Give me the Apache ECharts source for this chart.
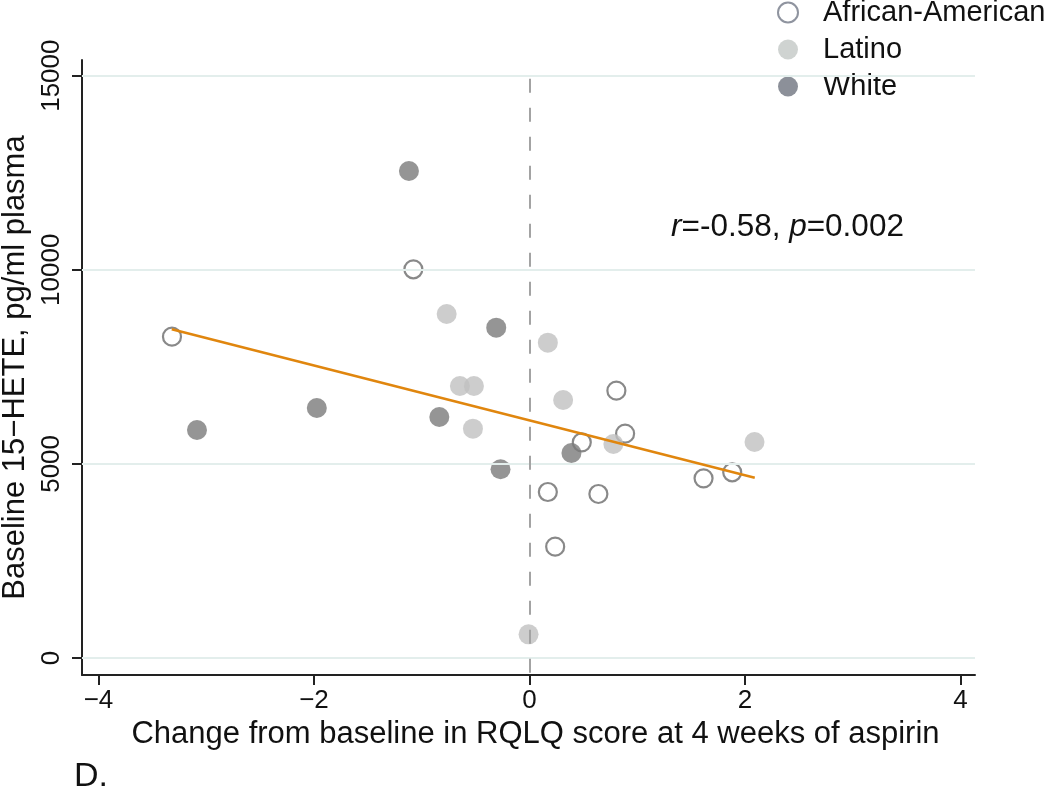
<!DOCTYPE html>
<html>
<head>
<meta charset="utf-8">
<script src="https://cdn.jsdelivr.net/npm/echarts@6/dist/echarts.min.js"></script>
<style>
html,body{margin:0;padding:0;background:#fff;}
#chart{width:1050px;height:793px;}
</style>
</head>
<body>
<div id="chart"></div>
<script>
// ---- data ----
const africanAmerican = [
  [-3.318, 8277], [-1.078, 10013], [0.806, 6886], [0.485, 5556], [0.887, 5778],
  [1.615, 4629], [1.881, 4784], [0.170, 4276], [0.639, 4225], [0.238, 2867]
];
const latino = [
  [-0.769, 8861], [-0.646, 7007], [-0.516, 7007], [-0.525, 5907], [0.170, 8122],
  [0.312, 6646], [0.778, 5513], [2.088, 5564], [-0.009, 610]
];
const white = [
  [-3.086, 5873], [-1.974, 6440], [-0.309, 8509], [-0.837, 6208],
  [-0.269, 4861], [0.389, 5281], [-1.119, 12545]
];
const fitLine = [[-3.32, 8470], [2.09, 4645]];
const xTicks = [-4, -2, 0, 2, 4];
const yTicks = [0, 5000, 10000, 15000];
const zeroLineSpan = [-380, 15000];
const xRange = [-4.153, 4.134];
const yRange = [-438, 15404];

const FONT = '"Liberation Sans", Arial, Helvetica, sans-serif';
const chart = echarts.init(document.getElementById('chart'), null, {renderer: 'canvas'});

const fmtNum = v => (v < 0 ? '\u2212' + Math.abs(v) : String(v));

chart.setOption({
  animation: false,
  backgroundColor: '#ffffff',
  textStyle: {fontFamily: FONT, color: '#111'},
  grid: {left: 82, right: 75, top: 60, bottom: 118, containLabel: false, outerBoundsMode: 'none'},
  legend: {
    orient: 'vertical',
    left: 777,
    top: -2,
    padding: 0,
    itemGap: 8,
    itemWidth: 20,
    itemHeight: 20,
    icon: 'circle',
    selectedMode: false,
    textStyle: {fontSize: 29, fontFamily: FONT, color: '#111', padding: [0, 0, 0, 20]},
    data: [
      {name: 'African-American', itemStyle: {color: '#ffffff', borderColor: '#737987', borderWidth: 2}},
      {name: 'Latino', itemStyle: {color: '#c3c8c5', borderWidth: 0}},
      {name: 'White', itemStyle: {color: '#6f7480', borderWidth: 0}}
    ]
  },
  xAxis: {
    type: 'value',
    min: xRange[0],
    max: xRange[1],
    name: 'Change from baseline in RQLQ score at 4 weeks of aspirin',
    nameLocation: 'middle',
    nameGap: 35,
    nameTextStyle: {fontSize: 31, fontFamily: FONT, color: '#111', padding: [0, 0, 0, 14]},
    axisLine: {show: true, onZero: false, lineStyle: {color: '#222', width: 2}},
    axisTick: {show: true, customValues: xTicks, length: 10, lineStyle: {color: '#222', width: 2}},
    axisLabel: {customValues: xTicks, formatter: fmtNum, fontSize: 26, fontFamily: FONT, color: '#111', margin: 13},
    splitLine: {show: false}
  },
  yAxis: {
    type: 'value',
    min: yRange[0],
    max: yRange[1],
    name: 'Baseline 15\u2212HETE, pg/ml plasma',
    nameLocation: 'middle',
    nameGap: 45,
    nameRotate: 90,
    nameTextStyle: {fontSize: 31, fontFamily: FONT, color: '#111'},
    axisLine: {show: true, onZero: false, lineStyle: {color: '#222', width: 2}},
    axisTick: {show: true, customValues: yTicks, length: 10, lineStyle: {color: '#222', width: 2}},
    axisLabel: {customValues: yTicks, formatter: v => String(v), rotate: 90, fontSize: 26, fontFamily: FONT, color: '#111', margin: 17},
    splitLine: {show: false}
  },
  graphic: [
    {
      type: 'text',
      left: 671,
      top: 211,
      style: {
        text: '{i|r}=-0.58, {i|p}=0.002',
        fontSize: 31.5,
        fontFamily: FONT,
        fill: '#111',
        rich: {i: {fontStyle: 'italic', fontSize: 31.5, fontFamily: FONT, fill: '#111'}}
      }
    },
    {
      type: 'text',
      left: 74,
      top: 760,
      style: {text: 'D.', fontSize: 34, fontFamily: FONT, fill: '#111'}
    }
  ],
  series: [
    {
      name: 'gridlines',
      type: 'scatter',
      data: [],
      z: 0,
      silent: true,
      markLine: {
        silent: true,
        symbol: 'none',
        label: {show: false},
        lineStyle: {color: '#e3eeec', width: 2, type: 'solid'},
        data: yTicks.map(v => ({yAxis: v}))
      }
    },
    {
      name: 'African-American',
      type: 'scatter',
      data: africanAmerican,
      symbol: 'circle',
      symbolSize: 18,
      z: 2,
      itemStyle: {color: 'rgba(255,255,255,0)', borderColor: '#6c6c6c', borderWidth: 2.2},
      emphasis: {disabled: true}
    },
    {
      name: 'Latino',
      type: 'scatter',
      data: latino,
      symbol: 'circle',
      symbolSize: 20,
      z: 3,
      itemStyle: {color: '#c1c1c1', borderWidth: 0},
      emphasis: {disabled: true}
    },
    {
      name: 'White',
      type: 'scatter',
      data: white,
      symbol: 'circle',
      symbolSize: 20,
      z: 4,
      itemStyle: {color: '#7b7b7b', borderWidth: 0},
      emphasis: {disabled: true}
    },
    {
      name: 'fit',
      type: 'line',
      data: fitLine,
      z: 5,
      symbol: 'none',
      silent: true,
      lineStyle: {color: '#e0860e', width: 2.5},
      markLine: {
        silent: true,
        symbol: 'none',
        label: {show: false},
        lineStyle: {color: '#a3a3a3', width: 2, type: [14, 15]},
        data: [[{coord: [0, zeroLineSpan[0]]}, {coord: [0, zeroLineSpan[1]]}]]
      }
    }
  ]
});
</script>
</body>
</html>
